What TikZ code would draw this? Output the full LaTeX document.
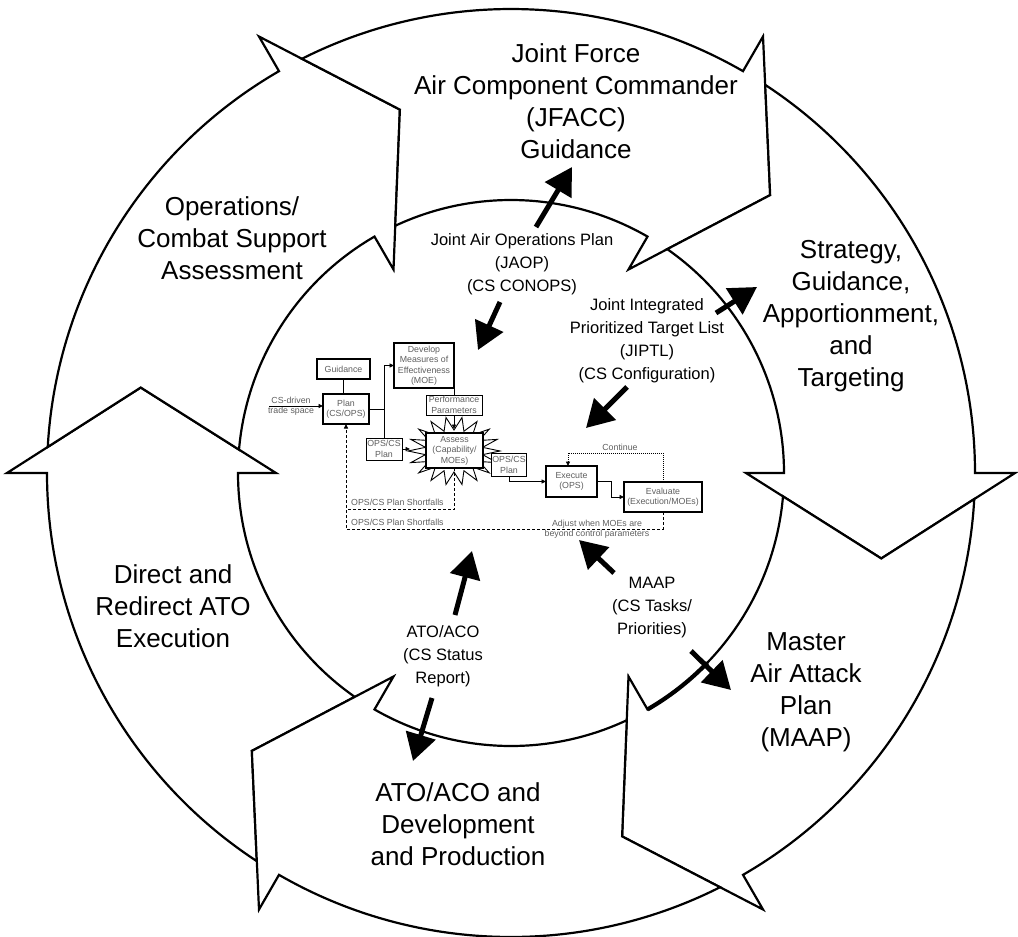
\documentclass[tikz,border=0pt]{standalone}
\usepackage{fontspec}
\setmainfont{Liberation Sans}
\usetikzlibrary{arrows.meta,calc}
\definecolor{txtgray}{RGB}{95,95,95}
\begin{document}
\begin{tikzpicture}[x=1pt,y=1pt,
  seg/.style={draw=black, fill=white, line width=2.2pt, line join=miter, miter limit=10},
  big/.style={font=\fontsize{26}{32}\selectfont, align=center, inner sep=0pt},
  mid/.style={font=\fontsize{16.5}{23}\selectfont, align=center, inner sep=0pt},
  fat/.style={line width=5pt, -{Triangle[length=27pt,width=30pt]}},
  smt/.style={font=\fontsize{8.8}{10.5}\selectfont, text=txtgray, align=center, inner sep=0pt},
  tbox/.style={draw=black, fill=white, line width=1.6pt, smt, outer sep=0pt},
  fbox/.style={draw=black, fill=white, line width=0.9pt, smt, outer sep=0pt},
  thinl/.style={draw=black, line width=0.9pt},
  sarr/.style={-{Triangle[length=4.5pt,width=4pt]}},
  dsh/.style={draw=black, line width=0.9pt, dash pattern=on 3pt off 2pt},
  dtt/.style={draw=black, line width=0.9pt, dash pattern=on 1pt off 1pt},
  starb/.style={draw=black, fill=white, line width=0.9pt, line join=miter}
]
\useasboundingbox (0,0) rectangle (1018,-937);

% ---- ring of six curved arrows ----
\begin{scope}[shift={(511,-473)}]
\foreach \h in {180,120,60,0,-60,-120}{
  \draw[seg] (\h+56.78:464) arc[start angle=\h+56.78, end angle=\h, radius=464]
    -- (\h:504) -- (\h-13:380) -- (\h:235) -- (\h:273)
    arc[start angle=\h, end angle=\h+55.09, radius=273]
    -- (\h+47:380) -- cycle;
}
\draw[line width=4.2pt] (-60:273) arc[start angle=-60, end angle=-44, radius=273];
\end{scope}

% ---- large labels ----
\node[big] (jfacc) at (576,-101) {Joint Force\\Air Component Commander\\(JFACC)\\Guidance};
\node[big] (opsa) at (232,-238) {Operations/\\Combat Support\\Assessment};
\node[big] (strat) at (851,-316) {Strategy,\\Guidance,\\Apportionment,\\and\\Targeting};
\node[big] (maapb) at (806,-692) {Master\\Air Attack\\Plan\\(MAAP)};
\node[big] (atob) at (458,-824) {ATO/ACO and\\Development\\and Production};
\node[big] (direct) at (173,-606) {Direct and\\Redirect ATO\\Execution};

% ---- medium labels ----
\node[mid] (jaop) at (522,-264) {Joint Air Operations Plan\\(JAOP)\\(CS CONOPS)};
\node[mid] (jiptl) at (647,-341) {Joint Integrated\\Prioritized Target List\\(JIPTL)\\(CS Configuration)};
\node[mid] (atol) at (443,-656) {ATO/ACO\\(CS Status\\Report)};
\node[mid] (maapl) at (652,-608) {MAAP\\(CS Tasks/\\Priorities)};

% ---- thick arrows ----
\coordinate (a1s) at (536,-227); \coordinate (a1e) at (572,-167);
\coordinate (a2s) at (500,-302); \coordinate (a2e) at (478,-350);
\coordinate (a3s) at (716,-313); \coordinate (a3e) at (757,-287);
\coordinate (a4s) at (627,-387); \coordinate (a4e) at (586,-428);
\coordinate (a5s) at (455,-615); \coordinate (a5e) at (472,-551);
\coordinate (a6s) at (432,-698); \coordinate (a6e) at (413,-761);
\coordinate (a7s) at (614,-573); \coordinate (a7e) at (579,-540);
\coordinate (a8s) at (691,-651); \coordinate (a8e) at (731,-690);
\foreach \i in {1,...,8}{ \draw[fat] (a\i s) -- (a\i e); }

% ---- central flowchart ----
\coordinate (stc) at (454,-451);
\draw[starb] ($(stc)+(0:46 and 34)$)
  \foreach \a in {20,40,...,340}{ -- ($(stc)+(\a-10:29 and 21)$) -- ($(stc)+(\a:46 and 34)$) }
  -- ($(stc)+(350:29 and 21)$) -- cycle;

\node[tbox, minimum width=53pt, minimum height=20pt] (guid) at (343.5,-369) {Guidance};
\node[tbox, minimum width=46pt, minimum height=30pt] (plan) at (346,-409) {Plan\\(CS/OPS)};
\node[tbox, minimum width=60pt, minimum height=45pt] (dev) at (424,-365.5) {Develop\\Measures of\\Effectiveness\\(MOE)};
\node[fbox, minimum width=56pt, minimum height=20pt] (perf) at (454,-405) {Performance\\Parameters};
\node[tbox, minimum width=57pt, minimum height=35pt] (assess) at (454.5,-450.5) {Assess\\(Capability/\\MOEs)};
\node[fbox, minimum width=36pt, minimum height=22pt] (ocpa) at (384,-449) {OPS/CS\\Plan};
\node[fbox, minimum width=35pt, minimum height=23pt] (ocpb) at (509,-465) {OPS/CS\\Plan};
\node[tbox, minimum width=51pt, minimum height=31pt] (exec) at (571.5,-481.5) {Execute\\(OPS)};
\node[tbox, minimum width=78pt, minimum height=30pt] (eval) at (663,-497) {Evaluate\\(Execution/MOEs)};

\node[smt] (csd) at (291,-406) {CS-driven\\trade space};
\node[smt, anchor=west] (sf1) at (351,-502) {OPS/CS Plan Shortfalls};
\node[smt, anchor=west] (sf2) at (351,-522) {OPS/CS Plan Shortfalls};
\node[smt] (adj) at (597,-529) {Adjust when MOEs are\\beyond control parameters};
\node[smt] (cont) at (620,-447) {Continue};

\coordinate (csds) at (269,-406);
\coordinate (stw) at (410,-449);
\coordinate (stn) at (454,-429);
\coordinate (dc1) at (346,-509);
\coordinate (dc2) at (346,-529);

\draw[thinl] (guid.south) -- (guid.south |- plan.north);
\draw[thinl, sarr] (csds) -- ([yshift=3pt]plan.west);
\draw[thinl] (plan.east) -| (ocpa.north);
\draw[thinl, sarr] (ocpa.north) |- (dev.west);
\draw[thinl, sarr] (ocpa.east) -- (stw);
\draw[thinl] (perf.north) -- (perf.north |- dev.south);
\draw[thinl, sarr] (perf.south) -- (stn);
\draw[thinl, sarr] (ocpb.south) |- (exec.west);
\draw[thinl, sarr] (exec.east) -- ++(14,0) |- (eval.west);
\draw[dtt, sarr] (eval.north) -- ++(0,29) -| ([xshift=-3.5pt]exec.north);
\draw[dsh] (assess.south) |- (dc1);
\draw[dsh, sarr] (eval.south) |- (dc2) -- (plan.south);
\end{tikzpicture}
\end{document}
